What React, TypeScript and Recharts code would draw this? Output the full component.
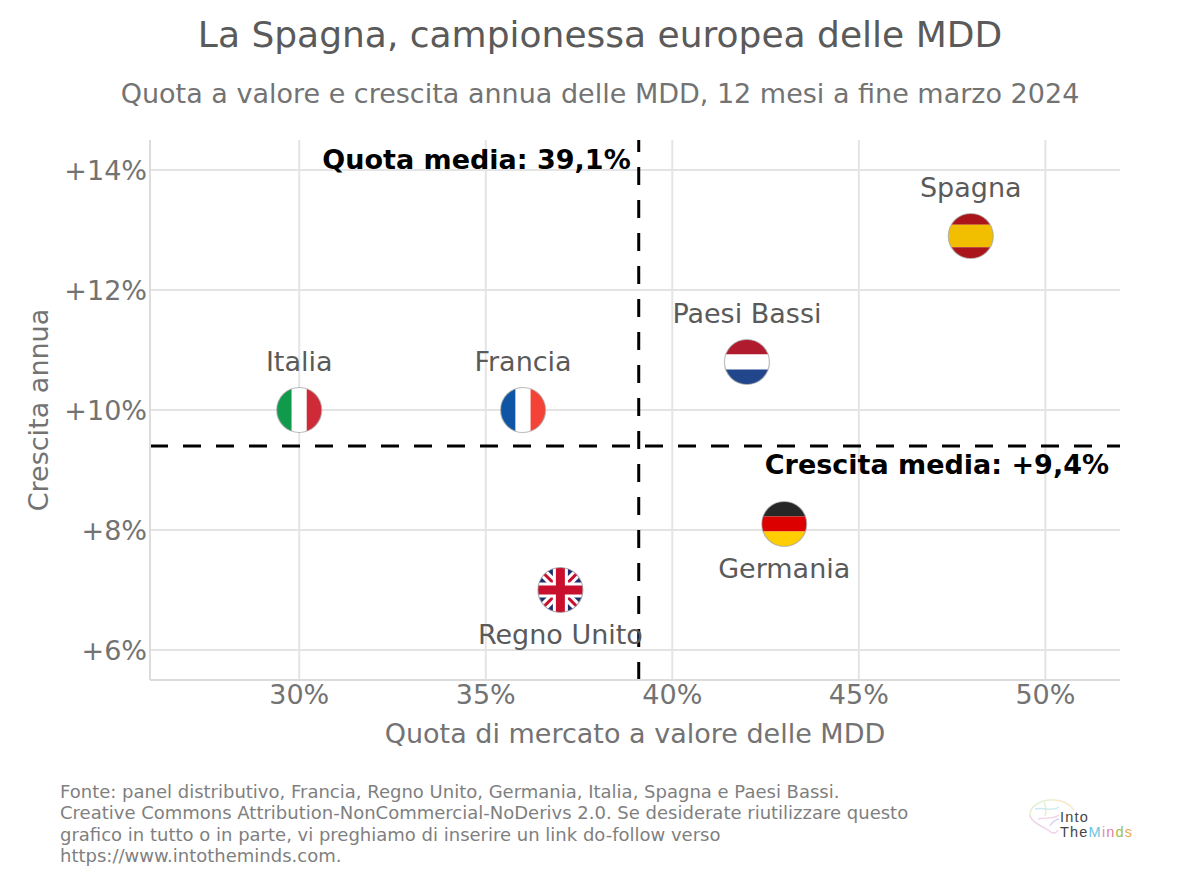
import React from "react";
import { ScatterChart, Scatter, XAxis, YAxis, CartesianGrid, ReferenceLine, Label } from "recharts";

const countries = ["Italia", "Francia", "Regno Unito", "Paesi Bassi", "Germania", "Spagna"];
const marketShare = [30, 36, 37, 42, 43, 48];
const growth = [10, 10, 7, 10.8, 8.1, 12.9];
const labelBelow = [false, false, true, false, true, false];
const xTicks = [30, 35, 40, 45, 50];
const yTicks = [6, 8, 10, 12, 14];
const avgShare = 39.1;
const avgGrowth = 9.4;

const FONT = "'DejaVu Sans', sans-serif";
const chartData = countries.map((name, i) => ({ name, x: marketShare[i], y: growth[i], below: labelBelow[i] }));

const R = 22.5;
const stripes: Record<string, { dir: "h" | "v"; parts: [string, number][] }> = {
  Italia: { dir: "v", parts: [["#0f9a4c", 1], ["#ffffff", 1], ["#cf2a37", 1]] },
  Francia: { dir: "v", parts: [["#0f55a5", 1], ["#ffffff", 1], ["#f44336", 1]] },
  "Paesi Bassi": { dir: "h", parts: [["#b01c2e", 1], ["#ffffff", 1], ["#21468b", 1]] },
  Germania: { dir: "h", parts: [["#272727", 1], ["#dd0000", 1], ["#ffce00", 1]] },
  Spagna: { dir: "h", parts: [["#aa151b", 1], ["#f1bf00", 2], ["#aa151b", 1]] },
};

function FlagBody({ name }: { name: string }) {
  if (name === "Regno Unito") {
    const d = R;
    return (
      <g>
        <rect x={-R} y={-R} width={2 * R} height={2 * R} fill="#1a2f6b" />
        <line x1={-d} y1={-d} x2={d} y2={d} stroke="#ffffff" strokeWidth={9} />
        <line x1={-d} y1={d} x2={d} y2={-d} stroke="#ffffff" strokeWidth={9} />
        <line x1={-d} y1={-d} x2={d} y2={d} stroke="#c8102e" strokeWidth={3} />
        <line x1={-d} y1={d} x2={d} y2={-d} stroke="#c8102e" strokeWidth={3} />
        <rect x={-7.5} y={-d} width={15} height={2 * d} fill="#ffffff" />
        <rect x={-d} y={-7.5} width={2 * d} height={15} fill="#ffffff" />
        <rect x={-4.5} y={-d} width={9} height={2 * d} fill="#c8102e" />
        <rect x={-d} y={-4.5} width={2 * d} height={9} fill="#c8102e" />
      </g>
    );
  }
  const spec = stripes[name];
  const total = spec.parts.reduce((s, p) => s + p[1], 0);
  let pos = -R;
  return (
    <g>
      {spec.parts.map(([color, w], i) => {
        const size = (w / total) * 2 * R;
        const el =
          spec.dir === "h" ? (
            <rect key={i} x={-R} y={pos} width={2 * R} height={size} fill={color} />
          ) : (
            <rect key={i} x={pos} y={-R} width={size} height={2 * R} fill={color} />
          );
        pos += size;
        return el;
      })}
    </g>
  );
}

function FlagPoint(props: any) {
  const { cx, cy, payload } = props;
  const id = "clip-" + payload.name.replace(/\s/g, "");
  return (
    <g>
      <g transform={`translate(${cx},${cy})`}>
        <clipPath id={id}>
          <circle r={R} />
        </clipPath>
        <g clipPath={`url(#${id})`}>
          <FlagBody name={payload.name} />
        </g>
        <circle r={R} fill="none" stroke="#a0a0a0" strokeOpacity={0.7} strokeWidth={1.2} />
      </g>
      <text x={cx} y={cy + (payload.below ? 44 : -49)} textAnchor="middle" dominantBaseline="central" fontFamily={FONT} fontSize={27} fill="#5a5a5a">
        {payload.name}
      </text>
    </g>
  );
}

function Logo() {
  return (
    <svg width={130} height={70} style={{ position: "absolute", left: 1020, top: 790 }}>
      <g fill="none" strokeWidth={1.4} strokeOpacity={0.6}>
        <path d="M10 26C9 16 22 9 34 10" stroke="#c9e4a8" />
        <path d="M34 10C42 10 50 14 54 20" stroke="#f5d9a0" />
        <path d="M10 26C12 33 22 36 28 40C32 44 36 44 38 40" stroke="#e6b3d9" />
        <path d="M15 19C24 17 32 22 39 17" stroke="#a9d8e8" />
        <path d="M18 29C25 27 32 30 39 25" stroke="#e6b3d9" />
        <path d="M30 36C32 32 35 30 39 29" stroke="#c9b3e6" />
        <path d="M24 12C26 16 27 20 25 26" stroke="#d8e0a8" />
      </g>
      <text fontFamily="'Liberation Sans', sans-serif" fontSize={14.5} letterSpacing={1.2} fill="#444444">
        <tspan x={40} y={32}>Into</tspan>
        <tspan x={40} y={47}>The</tspan>
        <tspan fill="#6fc3dc">M</tspan>
        <tspan fill="#e58ab8">i</tspan>
        <tspan fill="#e07f9f">n</tspan>
        <tspan fill="#9cc04a">d</tspan>
        <tspan fill="#e9a94a">s</tspan>
      </text>
    </svg>
  );
}

const footerLines = [
  "Fonte: panel distributivo, Francia, Regno Unito, Germania, Italia, Spagna e Paesi Bassi.",
  "Creative Commons Attribution-NonCommercial-NoDerivs 2.0. Se desiderate riutilizzare questo",
  "grafico in tutto o in parte, vi preghiamo di inserire un link do-follow verso",
  "https://www.intotheminds.com.",
];

export default function App() {
  return (
    <div style={{ position: "absolute", left: 0, top: 0, width: 1200, height: 885, background: "#fff", fontFamily: FONT, overflow: "hidden" }}>
      <div style={{ position: "absolute", left: 0, width: 1200, top: 14, textAlign: "center", fontSize: 36, lineHeight: "42px", color: "#5a5a5a" }}>
        La Spagna, campionessa europea delle MDD
      </div>
      <div style={{ position: "absolute", left: 0, width: 1200, top: 77, textAlign: "center", fontSize: 27, lineHeight: "34px", color: "#737373" }}>
        Quota a valore e crescita annua delle MDD, 12 mesi a fine marzo 2024
      </div>
      <ScatterChart width={1200} height={885} data={chartData} margin={{ top: 140, right: 80, bottom: 145, left: 0 }}>
        <CartesianGrid stroke="#e4e4e4" strokeWidth={2} horizontalValues={yTicks} verticalValues={xTicks} />
        <XAxis
          type="number"
          dataKey="x"
          domain={[26, 52]}
          ticks={xTicks}
          height={60}
          tickLine={false}
          tickSize={0}
          tickMargin={5}
          axisLine={{ stroke: "#dcdcdc", strokeWidth: 2 }}
          tick={{ fontSize: 27, fill: "#737373", fontFamily: FONT }}
          tickFormatter={(v: number) => `${v}%`}
        >
          <Label value="Quota di mercato a valore delle MDD" position="insideBottom" offset={0} dy={3} style={{ fontSize: 27, fill: "#737373", fontFamily: FONT }} />
        </XAxis>
        <YAxis
          type="number"
          dataKey="y"
          domain={[5.5, 14.5]}
          ticks={yTicks}
          width={150}
          tickLine={false}
          tickSize={0}
          tickMargin={3}
          axisLine={{ stroke: "#dcdcdc", strokeWidth: 2 }}
          tick={{ fontSize: 27, fill: "#737373", fontFamily: FONT }}
          tickFormatter={(v: number) => `+${v}%`}
        >
          <Label value="Crescita annua" angle={-90} position="center" dx={-37} style={{ fontSize: 27, fill: "#737373", fontFamily: FONT, textAnchor: "middle" }} />
        </YAxis>
        <ReferenceLine x={avgShare} stroke="#000" strokeWidth={3} strokeDasharray="18 15">
          <Label value="Quota media: 39,1%" position="insideTopRight" offset={8} dy={2} style={{ fontSize: 27, fontWeight: 700, fill: "#000", fontFamily: FONT }} />
        </ReferenceLine>
        <ReferenceLine y={avgGrowth} stroke="#000" strokeWidth={3} strokeDasharray="18 15">
          <Label value="Crescita media: +9,4%" position="insideTopRight" offset={8} dx={-3} dy={1} style={{ fontSize: 27, fontWeight: 700, fill: "#000", fontFamily: FONT }} />
        </ReferenceLine>
        <Scatter data={chartData} dataKey="y" isAnimationActive={false} shape={FlagPoint} />
      </ScatterChart>
      <div style={{ position: "absolute", left: 60, top: 781, fontSize: 18, lineHeight: "21.3px", color: "#7f7f7f", whiteSpace: "pre" }}>
        {footerLines.map((l) => (
          <div key={l}>{l}</div>
        ))}
      </div>
      <Logo />
    </div>
  );
}
